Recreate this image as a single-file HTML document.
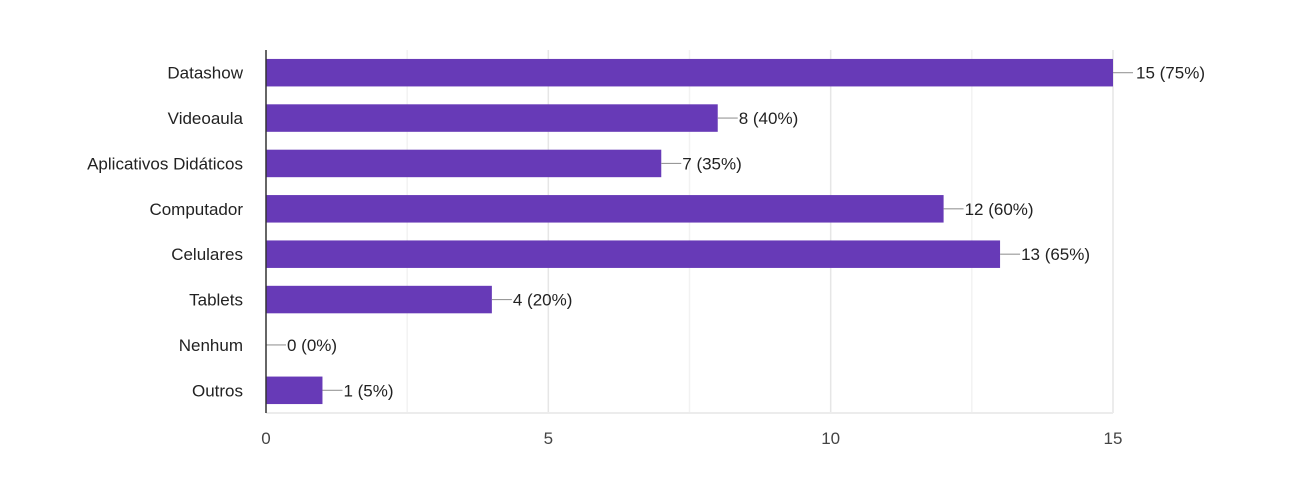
<!DOCTYPE html>
<html><head><meta charset="utf-8"><style>
html,body{margin:0;padding:0;background:#fff;}
svg{display:block;font-family:"Liberation Sans",Arial,sans-serif;}
</style></head><body>
<svg id="chart" width="1301" height="481" viewBox="0 0 1301 481"></svg>
<script>
const categories=["Datashow","Videoaula","Aplicativos Didáticos","Computador","Celulares","Tablets","Nenhum","Outros"];
const values=[15,8,7,12,13,4,0,1];
const percents=["75%","40%","35%","60%","65%","20%","0%","5%"];
const ticks=[0,5,10,15];
const gridTicks=[2.5,5,7.5,10,12.5,15];
const NS="http://www.w3.org/2000/svg";
const svg=document.getElementById('chart');
const L=266,R=1113,T=50,B=413,max=15;
const x=v=>L+(v/max)*(R-L);
const band=(B-T)/categories.length;
const barH=27.5;
function mk(t,a,p){const e=document.createElementNS(NS,t);for(const k in a)e.setAttribute(k,a[k]);(p||svg).appendChild(e);return e;}
gridTicks.forEach(g=>{
  const l=mk('line',{x1:x(g),x2:x(g),y1:T,y2:B,stroke:(g%5===0)?'#e6e6e6':'#f2f2f2','stroke-width':1.5});
  
  
});
const bl=mk('line',{x1:L,x2:R,y1:B,y2:B,stroke:'#ececec','stroke-width':2});


categories.forEach((c,i)=>{
  const cy=T+band*i+band/2;
  const r=mk('rect',{x:L,y:cy-barH/2,width:x(values[i])-L,height:barH,fill:'#673ab7'});
  
  
  const t=mk('text',{x:243,y:cy+6,'text-anchor':'end','font-size':17,fill:'#222'});
  t.textContent=c;
  
  
  const ex=x(values[i]);
  const ld=mk('line',{x1:ex,x2:ex+20,y1:cy,y2:cy,stroke:'#999','stroke-width':1.2});
  
  
  const v=mk('text',{x:ex+(values[i]===max?23:21),y:cy+6,'font-size':17,fill:'#222'});
  v.textContent=values[i]+' ('+percents[i]+')';
  
  
});
const ax=mk('line',{x1:L,x2:L,y1:T,y2:B,stroke:'#333','stroke-width':1.5});


ticks.forEach(tk=>{
  const t=mk('text',{x:x(tk),y:444,'text-anchor':'middle','font-size':17,fill:'#444'});
  t.textContent=tk;
  
  
});
</script>
</body></html>
